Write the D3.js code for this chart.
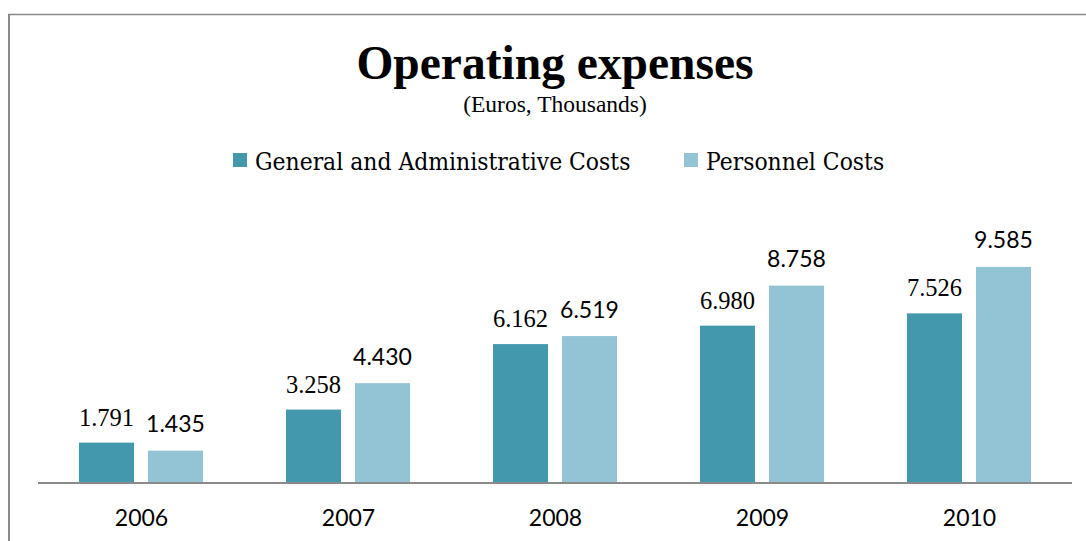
<!DOCTYPE html>
<html>
<head>
<meta charset="utf-8">
<script src="https://cdn.jsdelivr.net/npm/d3@7/dist/d3.min.js"></script>
<style>
  html, body { margin: 0; padding: 0; background: #fff; }
  svg { display: block; }
</style>
</head>
<body>
<svg id="chart" width="1086" height="541"></svg>
<script>
// Operating expenses by year (Euros, thousands)
const years = ["2006", "2007", "2008", "2009", "2010"];
const seriesNames = ["General and Administrative Costs", "Personnel Costs"];
const generalAdminCosts = [1.791, 3.258, 6.162, 6.980, 7.526];
const personnelCosts = [1.435, 4.430, 6.519, 8.758, 9.585];
const seriesColors = ["#4398AE", "#93C4D6"];

const svg = d3.select("#chart");
const W = 1086, H = 541;
const baseY = 483;

// frame
svg.append("line").attr("x1", 8).attr("x2", W).attr("y1", 14.5).attr("y2", 14.5)
  .attr("stroke", "#8a8a8a").attr("stroke-width", 1.5);
svg.append("line").attr("x1", 9).attr("x2", 9).attr("y1", 14).attr("y2", H)
  .attr("stroke", "#8a8a8a").attr("stroke-width", 2);

// titles
svg.append("text").attr("x", 555).attr("y", 79).attr("text-anchor", "middle")
  .style("font-family", "'Liberation Serif', 'Times New Roman', serif")
  .style("font-weight", "bold").style("font-size", "47.5px").attr("fill", "#000")
  .text("Operating expenses");
svg.append("text").attr("x", 555).attr("y", 112).attr("text-anchor", "middle")
  .style("font-family", "'Liberation Serif', 'Times New Roman', serif")
  .style("font-size", "23.5px").attr("fill", "#000")
  .text("(Euros, Thousands)");

// legend
const legendItems = [
  { name: seriesNames[0], color: seriesColors[0], x: 233 },
  { name: seriesNames[1], color: seriesColors[1], x: 684 }
];
const lg = svg.append("g").selectAll("g").data(legendItems).join("g")
  .attr("transform", d => `translate(${d.x},153)`);
lg.append("rect").attr("width", 14).attr("height", 14).attr("fill", d => d.color);
lg.append("text").attr("x", 22).attr("y", 17)
  .style("font-family", "'DejaVu Serif Condensed', 'DejaVu Serif', serif")
  .style("font-size", "24.4px").attr("fill", "#000")
  .text(d => d.name);

// scales
const x = d3.scaleBand().domain(years).range([38, 1073]);
const xInner = d3.scaleBand().domain([0, 1]).range([41, 165]).paddingInner(0.203);
const y = d3.scaleLinear().domain([0, 10]).range([baseY, 257.6]);

const rows = years.map((yr, i) => ({ year: yr, values: [generalAdminCosts[i], personnelCosts[i]] }));

const groups = svg.append("g").selectAll("g").data(rows).join("g")
  .attr("transform", d => `translate(${x(d.year)},0)`);

const cells = groups.selectAll("g").data(d => d.values.map((v, s) => ({ v, s }))).join("g");
cells.append("rect")
  .attr("x", d => xInner(d.s))
  .attr("width", xInner.bandwidth())
  .attr("y", d => y(d.v))
  .attr("height", d => baseY - y(d.v))
  .attr("fill", d => seriesColors[d.s]);

cells.append("text")
  .attr("x", d => xInner(d.s) + xInner.bandwidth() / 2)
  .attr("y", d => y(d.v) - (d.s === 0 ? 17 : 18.5))
  .attr("text-anchor", "middle")
  .style("font-family", d => d.s === 0 ? "'Liberation Serif', 'Times New Roman', serif" : "Lato, 'Open Sans', sans-serif")
  .style("font-size", d => d.s === 0 ? "24.5px" : "23px")
  .attr("fill", "#000")
  .text(d => d.v.toFixed(3));

// category axis
const axis = svg.append("g").attr("transform", `translate(0,${baseY})`)
  .call(d3.axisBottom(x).tickSize(0).tickSizeOuter(0).tickPadding(27));
axis.select(".domain").attr("stroke", "#8a8a8a").attr("stroke-width", 2)
  .attr("d", "M38,0H1072");
axis.selectAll(".tick text")
  .style("font-family", "Lato, 'Open Sans', sans-serif")
  .style("font-size", "23px").attr("fill", "#000");
</script>
</body>
</html>
